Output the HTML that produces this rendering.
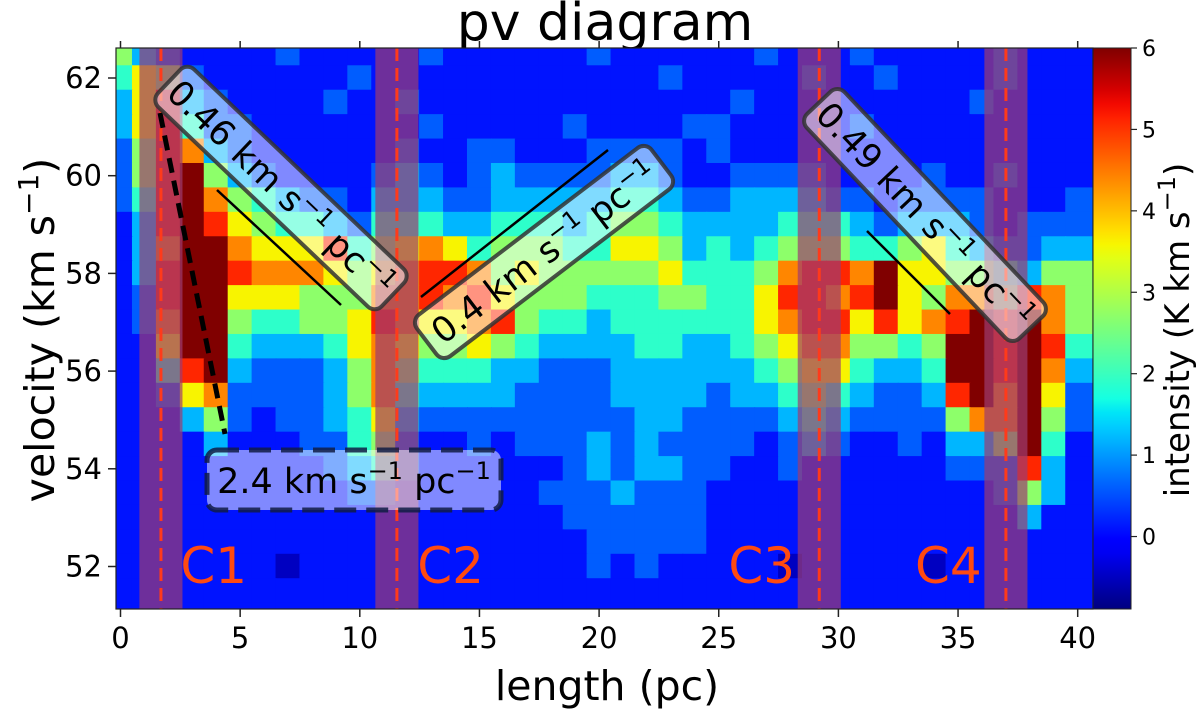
<!DOCTYPE html>
<html><head><meta charset="utf-8"><style>
html,body{margin:0;padding:0;background:#fff;}
svg{display:block;font-family:"DejaVu Sans","Liberation Sans",sans-serif;}
</style></head><body>
<svg id="chart" width="1200" height="714" viewBox="0 0 1200 714" xmlns="http://www.w3.org/2000/svg">
<defs>
<clipPath id="plotclip"><rect x="116" y="48" width="977" height="561"/></clipPath>
<linearGradient id="jetgrad" x1="0" y1="1" x2="0" y2="0"></linearGradient>
</defs>
<text x="605" y="40" font-size="52" text-anchor="middle">pv diagram</text>
<g clip-path="url(#plotclip)"><g id="heat"></g></g>
<g clip-path="url(#plotclip)" id="overlays"></g>
<rect x="116" y="48" width="977" height="561" fill="none" stroke="#222" stroke-width="1.2"/>
<g id="axes"></g>
<text transform="translate(54,330) rotate(-90)" font-size="41" text-anchor="middle">velocity (km s<tspan dy="-16" font-size="28">−1</tspan><tspan dy="16">)</tspan></text>
<text x="607" y="700" font-size="41" text-anchor="middle">length (pc)</text>
<rect x="1093" y="48" width="38" height="561" fill="url(#jetgrad)" stroke="#222" stroke-width="1"/>
<g id="cbticks"></g>
<text transform="translate(1189,330) rotate(-90)" font-size="34" text-anchor="middle">intensity (K km s<tspan dy="-14" font-size="24">−1</tspan><tspan dy="14">)</tspan></text>
</svg>
<script>
const NS="http://www.w3.org/2000/svg";
const velocities=[62.5,62,61.5,61,60.5,60,59.5,59,58.5,58,57.5,57,56.5,56,55.5,55,54.5,54,53.5,53,52.5,52,51.5,51];
const lengths=[0,1,2,3,4,5,6,7,8,9,10,11,12,13,14,15,16,17,18,19,20,21,22,23,24,25,26,27,28,29,30,31,32,33,34,35,36,37,38,39,40];
const levelValues=[-0.5,0.1,0.6,1.2,1.9,2.7,3.6,4.4,5.1,6.0];
const gridRows=[
"53211112111112111111211111121112111112111",
"46521111112111111111111211111211211112111",
"36832111121121111111111111211111111121111",
"36842211111112111112111122111112111111111",
"25873211111121122111222212111111111111111",
"25895321111232123222233211222211112112111",
"24897543221333223333344322333322122221112",
"13898654432444334443455433334443233321222",
"13799766684567645554466534345554456432233",
"13899877765678875655555644457887966554355",
"12899666555778786555444554468878965775875",
"12799544556876678544344444467886867898975",
"11699433346765565433334433456775545998984",
"11489322235754443322233333345664334998973",
"11267222235743333222233332334543223897962",
"11135212234632222222223322223432222577952",
"11113111224521121222323222212321121335941",
"11111111123421111112323322112111111222831",
"11111111112211111122232221111111111112531",
"11111111111111111112222221111111111111311",
"11111111111111111111222221111111111111111",
"11111110111111111111212111110111110111111",
"11111111111111111111111111111111111111111",
"11111111111111111111111111111111111111111"];
const xTicks=[0,5,10,15,20,25,30,35,40];
const yTicks=[52,54,56,58,60,62];
const cbTicks=[0,1,2,3,4,5,6];
const bandCenters=[1.69,11.55,29.2,37.0];
const clumpLabels=["C1","C2","C3","C4"];
const clumpLabelX=[2.5,12.4,25.4,33.2];
const VMIN=-0.89,VMAX=6;
function xs(v){return 120.5+v*23.93;}
function ys(v){return 78+(62-v)*48.85;}
function cbY(v){return 609-(v-VMIN)/(VMAX-VMIN)*561;}
function jet(t){t=Math.max(0,Math.min(1,t));
 const r=Math.max(0,Math.min(1,t<0.35?0:t<0.66?(t-0.35)/0.31:t<0.89?1:1-(t-0.89)/0.11*0.5));
 const g=Math.max(0,Math.min(1,t<0.125?0:t<0.375?(t-0.125)/0.25:t<0.64?1:t<0.91?1-(t-0.64)/0.27:0));
 const b=Math.max(0,Math.min(1,t<0.11?0.5+t/0.11*0.5:t<0.34?1:t<0.65?1-(t-0.34)/0.31:0));
 return `rgb(${Math.round(r*255)},${Math.round(g*255)},${Math.round(b*255)})`;}
function colorOf(v){return jet((v-VMIN)/(VMAX-VMIN));}
function mk(tag,attrs,parent){const e=document.createElementNS(NS,tag);for(const k in attrs)e.setAttribute(k,attrs[k]);parent.appendChild(e);return e;}
const grad=document.getElementById('jetgrad');
for(let i=0;i<=40;i++){mk('stop',{offset:(i/40),'stop-color':jet(i/40)},grad);}
const heat=document.getElementById('heat');
velocities.forEach((v,ri)=>{lengths.forEach((L,ci)=>{
 const val=levelValues[+gridRows[ri][ci]];
 const x0=xs(L-0.5),x1=xs(L+0.5),y0=ys(v+0.25),y1=ys(v-0.25);
 const ext=(ci===lengths.length-1)?20:0;
 const r=mk('rect',{x:x0-0.5,y:y0-0.5,width:x1-x0+1+ext,height:y1-y0+1+(ri===velocities.length-1?20:0),fill:colorOf(val)},heat);
 
 
});});
const ov=document.getElementById('overlays');
bandCenters.forEach((c,i)=>{
 const b=mk('rect',{x:xs(c-0.9),y:40,width:xs(c+0.9)-xs(c-0.9),height:580,fill:'#9c3c70','fill-opacity':0.7},ov);
 
 
 const l=mk('line',{x1:xs(c),x2:xs(c),y1:48,y2:609,stroke:'#ff3a1a','stroke-width':3,'stroke-dasharray':'13 7'},ov);
 
 
 const t=mk('text',{x:xs(clumpLabelX[i]),y:583,'font-size':50,fill:'#ff4a10'},ov);
 t.textContent=clumpLabels[i];
 
 
});
function seg(x1,y1,x2,y2,w,dash,name){const l=mk('line',{x1,y1,x2,y2,stroke:'#000','stroke-width':w},ov);if(dash)l.setAttribute('stroke-dasharray',dash);
 
 }
seg(217,190,341,305,2.5,null,'gradient-line-046');
seg(421,297,608,150,2.5,null,'gradient-line-04');
seg(867,231,950,314,2.5,null,'gradient-line-049');
seg(160,113,225,434,5,'15 8','gradient-line-24');
function tbox(cx,cy,w,h,ang,label,name,dash){
 const g=mk('g',{transform:`translate(${cx},${cy}) rotate(${ang})`},ov);
 
 
 const r=mk('rect',{x:-w/2,y:-h/2,width:w,height:h,rx:10,fill:'#fff','fill-opacity':0.5,stroke:dash?'#101c44':'#333','stroke-opacity':0.85,'stroke-width':dash?5:4},g);
 if(dash)r.setAttribute('stroke-dasharray','22 10');
 const t=mk('text',{x:0,y:13,'font-size':35,'text-anchor':'middle',fill:'#000'},g);
 t.innerHTML=label;
}
const sup='<tspan dy="-14" font-size="24">−1</tspan><tspan dy="14">';
tbox(281,188,309,52,43.6,`0.46 km s${sup} pc</tspan>${sup}</tspan>`,'label-box-046');
tbox(544,252,295,52,-37.3,`0.4 km s${sup} pc</tspan>${sup}</tspan>`,'label-box-04');
tbox(925,215,309,52,46.6,`0.49 km s${sup} pc</tspan>${sup}</tspan>`,'label-box-049');
tbox(354,480,294,60,0,`2.4 km s${sup} pc</tspan>${sup}</tspan>`,'label-box-24',true);
const ax=document.getElementById('axes');
xTicks.forEach(v=>{const x=xs(v);
 mk('line',{x1:x,x2:x,y1:609,y2:617,stroke:'#222','stroke-width':1.5},ax);
 mk('line',{x1:x,x2:x,y1:48,y2:41,stroke:'#222','stroke-width':1.5},ax);
 const t=mk('text',{x:x,y:648,'font-size':29,'text-anchor':'middle'},ax);t.textContent=v;
 
 });
yTicks.forEach(v=>{const y=ys(v);
 mk('line',{x1:116,x2:108,y1:y,y2:y,stroke:'#222','stroke-width':1.5},ax);
 const t=mk('text',{x:102,y:y+10,'font-size':29,'text-anchor':'end'},ax);t.textContent=v;
 
 });
const cbt=document.getElementById('cbticks');
cbTicks.forEach(v=>{const y=cbY(v);
 mk('line',{x1:1131,x2:1137,y1:y,y2:y,stroke:'#222','stroke-width':1.2},cbt);
 const t=mk('text',{x:1142,y:y+8,'font-size':22},cbt);t.textContent=v;
 
 });
</script>
</body></html>
